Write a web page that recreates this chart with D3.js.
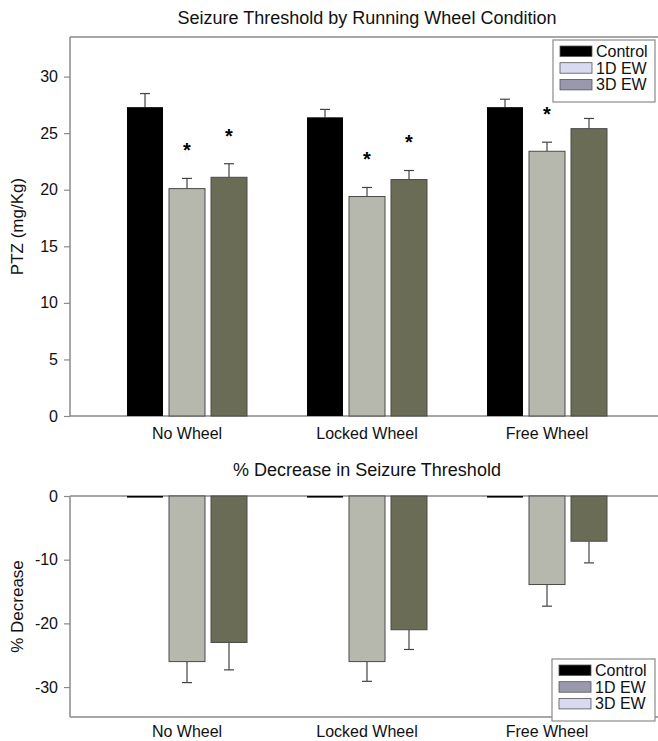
<!DOCTYPE html>
<html>
<head>
<meta charset="utf-8">
<script src="https://cdn.jsdelivr.net/npm/d3@7/dist/d3.min.js"></script>
<style>
  body { margin: 0; background: #fff; }
  svg { display: block; font-family: "Liberation Sans", Arial, sans-serif; }
</style>
</head>
<body>
<svg id="chart" width="658" height="741"></svg>
<script>
// data
const groups = ["No Wheel", "Locked Wheel", "Free Wheel"];
const series = ["Control", "1D EW", "3D EW"];
const barColors = ["#000000", "#b6b8ae", "#6b6c55"];

const ptzMean = [[27.3, 20.1, 21.1], [26.4, 19.4, 20.9], [27.3, 23.4, 25.4]];
const ptzErr = [[1.2, 0.9, 1.2], [0.7, 0.8, 0.8], [0.7, 0.8, 0.9]];
const ptzStar = [[false, true, true], [false, true, true], [false, true, false]];
const ptzTicks = [0, 5, 10, 15, 20, 25, 30];

const decMean = [[-0.25, -26.0, -23.0], [-0.25, -26.0, -21.0], [-0.25, -13.9, -7.1]];
const decErr = [[0, 3.3, 4.3], [0, 3.1, 3.1], [0, 3.4, 3.4]];
const decTicks = [0, -10, -20, -30];

// legend swatches as printed (they differ from the bar fills)
const legendTop = ["#000000", "#d9d9f2", "#9a98ad"];
const legendBottom = ["#000000", "#9a98ad", "#d9d9f2"];

const svg = d3.select("#chart");
const left = 70, right = 664;
const axisCol = "#8a8a8a";

const x0 = d3.scaleBand().domain(groups).range([left, right])
  .paddingInner(1 / 3).paddingOuter(0.3167);
const x1 = d3.scaleBand().domain(series).range([0, x0.bandwidth()])
  .paddingInner(0.143).paddingOuter(0);

function panel(opts) {
  const y = opts.y;
  const g = svg.append("g");
  const [yb, yt] = y.range();

  // frame
  g.append("line").attr("x1", left).attr("x2", right).attr("y1", yt).attr("y2", yt)
    .attr("stroke", axisCol).attr("stroke-width", 1.5);
  g.append("line").attr("x1", left).attr("x2", right).attr("y1", yb).attr("y2", yb)
    .attr("stroke", axisCol).attr("stroke-width", 1.5);

  const rows = groups.flatMap((grp, i) => series.map((s, j) => ({
    grp, s, j, v: opts.mean[i][j], e: opts.err[i][j], star: opts.star ? opts.star[i][j] : false
  })));

  const bx = d => x0(d.grp) + x1(d.s);

  // error bars
  const eb = g.selectAll(".err").data(rows.filter(d => d.e > 0)).join("g").attr("class", "err");
  eb.append("line")
    .attr("x1", d => bx(d) + x1.bandwidth() / 2).attr("x2", d => bx(d) + x1.bandwidth() / 2)
    .attr("y1", d => y(d.v)).attr("y2", d => y(d.v + Math.sign(d.v) * d.e))
    .attr("stroke", "#444").attr("stroke-width", 1.2);
  eb.append("line")
    .attr("x1", d => bx(d) + x1.bandwidth() / 2 - 5).attr("x2", d => bx(d) + x1.bandwidth() / 2 + 5)
    .attr("y1", d => y(d.v + Math.sign(d.v) * d.e)).attr("y2", d => y(d.v + Math.sign(d.v) * d.e))
    .attr("stroke", "#444").attr("stroke-width", 1.2);

  // bars
  g.selectAll(".bar").data(rows).join("rect").attr("class", "bar")
    .attr("x", d => bx(d))
    .attr("width", x1.bandwidth())
    .attr("y", d => y(Math.max(0, d.v)))
    .attr("height", d => Math.abs(y(d.v) - y(0)))
    .attr("fill", d => barColors[d.j])
    .attr("stroke", d => d.j === 0 ? "#000" : "#4a4a4a")
    .attr("stroke-width", d => d.j === 0 ? 0 : 1);

  // significance stars
  g.selectAll(".star").data(rows.filter(d => d.star)).join("text").attr("class", "star")
    .attr("x", d => bx(d) + x1.bandwidth() / 2)
    .attr("y", d => y(d.v + d.e) - 32 + 11)
    .attr("text-anchor", "middle").attr("font-size", 20).attr("font-weight", "bold")
    .text("*");

  // y axis
  const ya = g.append("g").attr("transform", `translate(${left},0)`)
    .call(d3.axisLeft(y).tickValues(opts.ticks).tickSize(6).tickPadding(6).tickFormat(d => String(d)));
  ya.select(".domain").attr("stroke", axisCol).attr("stroke-width", 1.5).attr("d", `M0,${yb}V${yt}`);
  ya.selectAll(".tick line").attr("stroke", axisCol).attr("stroke-width", 1.2);
  ya.selectAll(".tick text").attr("font-size", 16).attr("fill", "#111")
    .attr("font-family", "Liberation Sans, Arial, sans-serif");

  // x labels
  g.selectAll(".xl").data(groups).join("text").attr("class", "xl")
    .attr("x", d => x0(d) + x0.bandwidth() / 2).attr("y", opts.xLabelY)
    .attr("text-anchor", "middle").attr("font-size", 16).attr("fill", "#111").text(d => d);

  // titles
  g.append("text").attr("x", (left + right) / 2).attr("y", opts.titleY)
    .attr("text-anchor", "middle").attr("font-size", 18).attr("fill", "#111").text(opts.title);
  g.append("text").attr("transform", `translate(23,${(yb + yt) / 2}) rotate(-90)`)
    .attr("text-anchor", "middle").attr("font-size", 17).attr("fill", "#111").text(opts.yTitle);

  // legend
  const L = opts.legend;
  const lg = g.append("g").attr("transform", `translate(${L.x},${L.y})`);
  lg.append("rect").attr("width", L.w).attr("height", 62).attr("fill", "#fff")
    .attr("stroke", "#8a8a8a").attr("stroke-width", 1.2);
  series.forEach((s, k) => {
    lg.append("rect").attr("x", 7).attr("y", 6 + k * 16.7).attr("width", 32).attr("height", 10.5)
      .attr("fill", L.colors[k]).attr("stroke", "#555").attr("stroke-width", 0.8);
    lg.append("text").attr("x", 43).attr("y", 17 + k * 16.7)
      .attr("font-size", 16).attr("fill", "#111").text(s);
  });
}

panel({
  y: d3.scaleLinear().domain([0, 33.5]).range([416, 37]),
  mean: ptzMean, err: ptzErr, star: ptzStar, ticks: ptzTicks,
  title: "Seizure Threshold by Running Wheel Condition", titleY: 24,
  yTitle: "PTZ (mg/Kg)", xLabelY: 439,
  legend: { x: 553, y: 40, w: 102, colors: legendTop }
});

panel({
  y: d3.scaleLinear().domain([-34.7, 0]).range([717, 496]),
  mean: decMean, err: decErr, ticks: decTicks,
  title: "% Decrease in Seizure Threshold", titleY: 476,
  yTitle: "% Decrease", xLabelY: 737,
  legend: { x: 552, y: 659, w: 103, colors: legendBottom }
});
</script>
</body>
</html>
